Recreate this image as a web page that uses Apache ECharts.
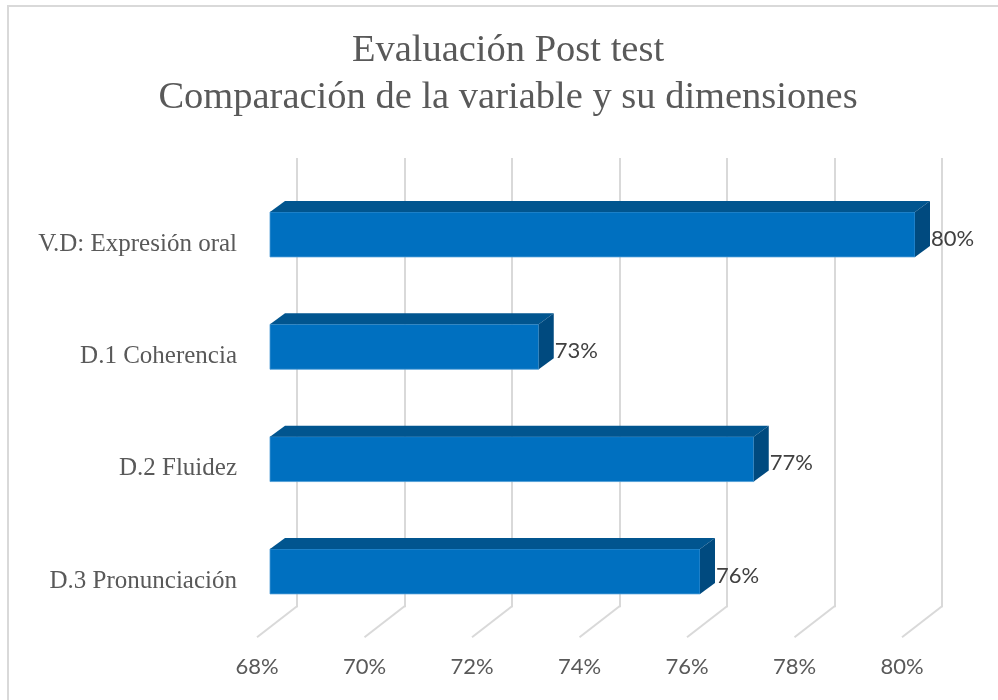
<!DOCTYPE html>
<html>
<head>
<meta charset="utf-8">
<script src="https://cdn.jsdelivr.net/npm/echarts@6/dist/echarts.min.js"></script>
<style>html,body{margin:0;padding:0;background:#fff}#c{width:998px;height:700px}</style>
</head>
<body>
<div id="c"></div>
<script>
// ---- data ----
const titleLines = ['Evaluación Post test', 'Comparación de la variable y su dimensiones'];
const categories = ['V.D: Expresión oral', 'D.1 Coherencia', 'D.2 Fluidez', 'D.3 Pronunciación'];
const values = [80, 73, 77, 76];
const tickValues = [68, 70, 72, 74, 76, 78, 80];
const axisMin = 68, axisMax = 80, axisStep = 2;

// ---- 3D layout (styling) ----
const PLOT_W = 645, PLOT_H = 449.3;
const BACK = { left: 297, top: 158 };      // back wall plane
const BARP = { left: 270, top: 178.3 };    // bar plane
const FRONT = { left: 257, top: 188.1 };   // front plane
const FLOOR_DX = -40, FLOOR_DY = 30;
const BAR_DX = 15, BAR_DY = -11;
const BAR_RATIO = 0.40;
const SERIF = '"Liberation Serif","Times New Roman",serif';
const SANS = 'Lato,"Open Sans",Calibri,sans-serif';

const chart = echarts.init(document.getElementById('c'), null, { renderer: 'canvas' });

function mkGrid(p) {
  return { left: p.left, top: p.top, width: PLOT_W, height: PLOT_H, containLabel: false, outerBoundsMode: 'none' };
}
function mkX(idx, showLabel, showSplit) {
  return {
    type: 'value', gridIndex: idx, min: axisMin, max: axisMax, interval: axisStep,
    axisLine: { show: false }, axisTick: { show: false },
    splitLine: { show: showSplit, lineStyle: { color: '#d9d9d9', width: 2 } },
    axisLabel: { show: showLabel, formatter: '{value}%', margin: 19, color: '#595959', fontFamily: SANS, fontSize: 22 }
  };
}
function mkY(idx, showLabel) {
  return {
    type: 'category', gridIndex: idx, data: categories, inverse: true,
    axisLine: { show: false }, axisTick: { show: false }, splitLine: { show: false },
    axisLabel: { show: showLabel, margin: 20, color: '#595959', fontFamily: SERIF, fontSize: 25 }
  };
}

const option = {
  backgroundColor: '#ffffff',
  animation: false,
  graphic: [
    { type: 'rect', shape: { x: 8, y: 6, width: 1000, height: 700 }, style: { fill: 'none', stroke: '#d9d9d9', lineWidth: 2 }, silent: true },
    { type: 'text', x: 508, y: 51, style: { text: titleLines[0], fill: '#595959', font: '38.5px ' + SERIF, textAlign: 'center', textVerticalAlign: 'middle' } },
    { type: 'text', x: 508, y: 98, style: { text: titleLines[1], fill: '#595959', font: '38.5px ' + SERIF, textAlign: 'center', textVerticalAlign: 'middle' } }
  ],
  grid: [mkGrid(BACK), mkGrid(BARP), mkGrid(FRONT)],
  xAxis: [mkX(0, false, true), mkX(1, false, false), mkX(2, true, false)],
  yAxis: [mkY(0, false), mkY(1, false), mkY(2, true)],
  series: [
    {
      // floor lines from back wall down to the front edge
      type: 'custom', xAxisIndex: 0, yAxisIndex: 0, silent: true,
      data: tickValues.map(v => [v, categories[categories.length - 1]]),
      renderItem: function (params, api) {
        const cs = params.coordSys;
        const x = api.coord([api.value(0), categories[0]])[0];
        const yb = cs.y + cs.height;
        return {
          type: 'line',
          shape: { x1: x, y1: yb - 1, x2: x + FLOOR_DX, y2: yb + FLOOR_DY },
          style: { stroke: '#d9d9d9', lineWidth: 2 }
        };
      }
    },
    {
      type: 'custom', xAxisIndex: 1, yAxisIndex: 1, silent: true,
      data: values.map((v, i) => [v, categories[i]]),
      renderItem: function (params, api) {
        const cat = api.value(1);
        const start = api.coord([axisMin, cat]);
        const end = api.coord([api.value(0), cat]);
        const band = api.size([0, 1])[1];
        const h = band * BAR_RATIO;
        const x0 = start[0], x1 = end[0];
        const yT = start[1] - h / 2, yB = start[1] + h / 2;
        return {
          type: 'group',
          children: [
            { type: 'rect', shape: { x: x0, y: yT, width: x1 - x0, height: h }, style: { fill: '#0070c0', stroke: '#4a9ad6', lineWidth: 0.8 } },
            { type: 'polygon', shape: { points: [[x0, yT], [x1, yT], [x1 + BAR_DX, yT + BAR_DY], [x0 + BAR_DX, yT + BAR_DY]] }, style: { fill: '#01558f' } },
            { type: 'polygon', shape: { points: [[x1, yT], [x1 + BAR_DX, yT + BAR_DY], [x1 + BAR_DX, yB + BAR_DY], [x1, yB]] }, style: { fill: '#004a7f' } },
            { type: 'text', x: x1 + BAR_DX + 1, y: start[1] + 4, style: { text: api.value(0) + '%', fill: '#404040', font: '22px ' + SANS, textAlign: 'left', textVerticalAlign: 'middle' } }
          ]
        };
      }
    }
  ]
};
chart.setOption(option);
</script>
</body>
</html>
